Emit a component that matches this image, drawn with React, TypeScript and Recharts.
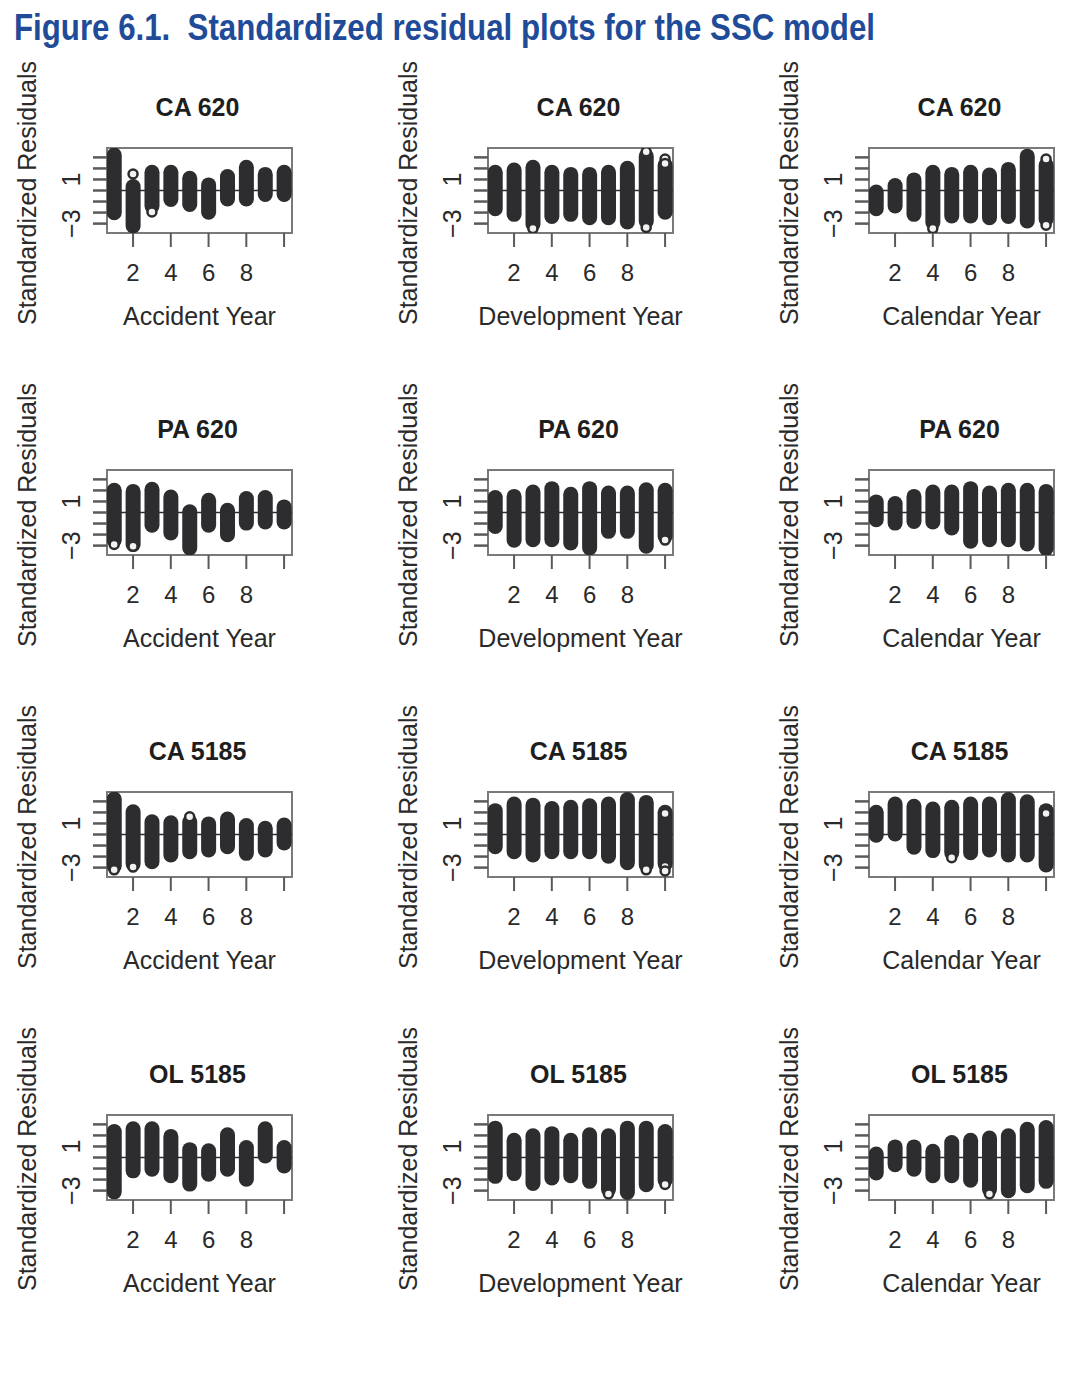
import React from "react";
import {
  ComposedChart,
  Bar,
  Scatter,
  XAxis,
  YAxis,
  ReferenceLine,
  ReferenceArea,
} from "recharts";

const years = [1, 2, 3, 4, 5, 6, 7, 8, 9, 10];
const xTicks = [2, 4, 6, 8, 10];
const xLabelled = [2, 4, 6, 8];
const yTicks = [-3, -2, -1, 0, 1, 2, 3];
const yLabelled = [1, -3];

const lineTitles = ["CA 620", "PA 620", "CA 5185", "OL 5185"];
const periodTitles = ["Accident Year", "Development Year", "Calendar Year"];

// lowest / highest standardized residual in each year
const ca620AyLo = [-2.1, -3.3, -1.5, -0.9, -1.35, -2.05, -0.85, -0.85, -0.45, -0.45];
const ca620AyHi = [3.3, 0.45, 1.75, 1.75, 1.2, 0.6, 1.35, 2.2, 1.55, 1.75];
const ca620DyLo = [-1.75, -2.25, -3.15, -2.45, -2.25, -2.55, -2.55, -2.95, -2.9, -2.05];
const ca620DyHi = [1.75, 1.95, 2.2, 1.75, 1.55, 1.55, 1.75, 2.1, 3.2, 2.4];
const ca620CyLo = [-1.75, -1.5, -2.25, -3.0, -2.4, -2.4, -2.55, -2.45, -2.85, -2.7];
const ca620CyHi = [-0.05, 0.55, 1.05, 1.75, 1.55, 1.75, 1.5, 2.0, 3.2, 2.4];

const pa620AyLo = [-2.6, -3.0, -1.25, -1.95, -3.3, -1.25, -2.1, -1.05, -0.95, -0.95];
const pa620AyHi = [2.1, 2.0, 2.2, 1.5, 0.15, 1.2, 0.3, 1.35, 1.45, 0.6];
const pa620DyLo = [-1.35, -2.6, -2.55, -2.55, -2.85, -3.3, -1.8, -1.8, -3.15, -2.25];
const pa620DyHi = [1.45, 1.55, 1.95, 2.25, 1.75, 2.25, 1.85, 1.85, 2.15, 2.1];
const pa620CyLo = [-0.75, -1.05, -0.9, -0.95, -1.5, -2.7, -2.55, -2.55, -2.95, -3.35];
const pa620CyHi = [1.05, 0.9, 1.55, 1.95, 1.95, 2.25, 1.85, 2.1, 2.1, 2.0];

const ca5185AyLo = [-2.95, -2.75, -2.55, -1.95, -1.65, -1.5, -1.2, -1.8, -1.5, -0.85];
const ca5185AyHi = [3.3, 2.15, 1.25, 1.15, 1.25, 1.05, 1.5, 0.9, 0.65, 0.95];
const ca5185DyLo = [-1.2, -1.65, -1.95, -1.65, -1.65, -1.65, -2.05, -2.65, -2.85, -2.75];
const ca5185DyHi = [2.25, 2.85, 2.75, 2.45, 2.55, 2.7, 2.85, 3.25, 3.0, 2.1];
const ca5185CyLo = [-0.15, -0.05, -1.25, -1.55, -1.75, -1.75, -1.5, -1.95, -1.95, -2.85];
const ca5185CyHi = [2.1, 2.85, 2.65, 2.4, 2.55, 2.85, 2.85, 3.25, 3.05, 2.25];

const ol5185AyLo = [-3.2, -1.3, -1.15, -1.75, -2.5, -1.6, -1.15, -2.05, 0.05, -0.85];
const ol5185AyHi = [2.45, 2.7, 2.7, 2.0, 0.8, 0.7, 2.15, 1.0, 2.7, 1.0];
const ol5185DyLo = [-1.8, -1.55, -2.45, -1.95, -1.75, -2.25, -3.0, -3.25, -2.55, -2.15];
const ol5185DyHi = [2.75, 1.65, 2.05, 2.25, 1.65, 2.15, 2.05, 2.75, 2.75, 2.45];
const ol5185CyLo = [-1.5, -0.75, -1.15, -1.75, -1.75, -2.15, -3.0, -3.1, -2.65, -2.25];
const ol5185CyHi = [0.4, 1.05, 1.05, 0.65, 1.45, 1.65, 1.85, 2.05, 2.65, 2.8];

// residuals that stand out as separate open circles: [year, residual]
const ca620AyOpen = [[2, 1.5], [3, -1.95]];
const ca620DyOpen = [[3, -3.45], [9, 3.5], [9, -3.35], [10, 2.85], [10, 2.45]];
const ca620CyOpen = [[4, -3.45], [10, -3.15], [10, 2.85]];
const pa620AyOpen = [[1, -2.9], [2, -3.05]];
const pa620DyOpen = [[10, -2.5]];
const pa620CyOpen: number[][] = [];
const ca5185AyOpen = [[1, -3.2], [2, -2.95], [5, 1.6]];
const ca5185DyOpen = [[9, -3.2], [10, 1.9], [10, -2.9], [10, -3.3]];
const ca5185CyOpen = [[10, 1.9], [5, -2.1]];
const ol5185AyOpen: number[][] = [];
const ol5185DyOpen = [[7, -3.3], [10, -2.45]];
const ol5185CyOpen = [[7, -3.3]];

const grid = [
  [[ca620AyLo, ca620AyHi, ca620AyOpen], [ca620DyLo, ca620DyHi, ca620DyOpen], [ca620CyLo, ca620CyHi, ca620CyOpen]],
  [[pa620AyLo, pa620AyHi, pa620AyOpen], [pa620DyLo, pa620DyHi, pa620DyOpen], [pa620CyLo, pa620CyHi, pa620CyOpen]],
  [[ca5185AyLo, ca5185AyHi, ca5185AyOpen], [ca5185DyLo, ca5185DyHi, ca5185DyOpen], [ca5185CyLo, ca5185CyHi, ca5185CyOpen]],
  [[ol5185AyLo, ol5185AyHi, ol5185AyOpen], [ol5185DyLo, ol5185DyHi, ol5185DyOpen], [ol5185CyLo, ol5185CyHi, ol5185CyOpen]],
] as number[][][][];

const INK = "#2d2d30";
const FONT = "'Liberation Sans', Arial, Helvetica, sans-serif";
const X_DOMAIN: [number, number] = [0.62, 10.42];
const Y_DOMAIN: [number, number] = [-3.85, 3.85];

// panel geometry
const PANEL_W = 381;
const PANEL_H = 300;
const ROW_STEP = 322.2;
const BOX_L = 107;
const BOX_T = 88;
const BOX_W = 185;
const BOX_H = 85;

function Pill(props: any) {
  const { x, y, width, height } = props;
  if (x == null || y == null) return null;
  const top = Math.min(y, y + height);
  const h = Math.abs(height);
  const r = width / 2;
  return <rect x={x} y={top - r + 1} width={width} height={h + 2 * r - 2} rx={r} ry={r} fill={INK} />;
}

function OpenDot(props: any) {
  const { cx, cy } = props;
  if (cx == null || cy == null) return null;
  return <circle cx={cx} cy={cy} r={4.5} fill="#f2f2f2" stroke={INK} strokeWidth={2.5} />;
}

function XTick(props: any) {
  const { x, y, payload } = props;
  if (!xLabelled.includes(payload.value)) return null;
  return (
    <text x={x} y={y + 25} textAnchor="middle" dominantBaseline="central" fontSize={24} fontFamily={FONT} fill="#2a2a2a">
      {payload.value}
    </text>
  );
}

function YTick(props: any) {
  const { x, y, payload } = props;
  if (!yLabelled.includes(payload.value)) return null;
  const cx = x - 22;
  const label = payload.value < 0 ? `\u2212${Math.abs(payload.value)}` : `${payload.value}`;
  return (
    <text
      x={cx}
      y={y}
      transform={`rotate(-90 ${cx} ${y})`}
      textAnchor="middle"
      dominantBaseline="central"
      fontSize={25}
      fontFamily={FONT}
      fill="#2a2a2a"
    >
      {label}
    </text>
  );
}

function Panel({ row, col }: { row: number; col: number }) {
  const [lo, hi, open] = grid[row][col];
  const data = years.map((year, i) => ({ year, range: [lo[i], hi[i]] }));
  const openData = open.map(([year, v]) => ({ year, v }));
  const left = col * 381;
  const top = 60 + row * ROW_STEP;
  const boxCx = BOX_L + BOX_W / 2;

  const textBase: React.CSSProperties = {
    position: "absolute",
    transform: "translate(-50%, -50%)",
    whiteSpace: "nowrap",
    fontFamily: FONT,
    color: "#2a2a2a",
    lineHeight: 1,
  };

  return (
    <div style={{ position: "absolute", left, top, width: PANEL_W, height: PANEL_H + 40 }}>
      <ComposedChart
        width={PANEL_W}
        height={PANEL_H}
        data={data}
        margin={{ top: BOX_T, left: BOX_L - 60, right: PANEL_W - BOX_L - BOX_W, bottom: PANEL_H - BOX_T - BOX_H - 60 }}
      >
        <XAxis
          type="number"
          dataKey="year"
          domain={X_DOMAIN}
          ticks={xTicks}
          interval={0}
          allowDataOverflow
          axisLine={false}
          tickLine={{ stroke: "#5a5a5a", strokeWidth: 2 }}
          tickSize={14}
          tickMargin={0}
          height={60}
          tick={<XTick />}
        />
        <YAxis
          type="number"
          domain={Y_DOMAIN}
          ticks={yTicks}
          interval={0}
          allowDataOverflow
          axisLine={false}
          tickLine={{ stroke: "#5a5a5a", strokeWidth: 2.5 }}
          tickSize={14}
          tickMargin={0}
          width={60}
          tick={<YTick />}
        />
        <ReferenceLine y={0} stroke={INK} strokeWidth={1.5} />
        <Bar dataKey="range" barSize={15} shape={<Pill />} isAnimationActive={false} />
        <Scatter data={openData} dataKey="v" shape={<OpenDot />} isAnimationActive={false} />
        <ReferenceArea
          x1={X_DOMAIN[0]}
          x2={X_DOMAIN[1]}
          y1={Y_DOMAIN[0]}
          y2={Y_DOMAIN[1]}
          fill="none"
          fillOpacity={0}
          stroke="#7a7a7a"
          strokeWidth={2}
        />
      </ComposedChart>
      <div style={{ ...textBase, left: boxCx - 2, top: BOX_T - 41, fontSize: 25, fontWeight: 700, color: "#1e1e1e" }}>
        {lineTitles[row]}
      </div>
      <div style={{ ...textBase, left: boxCx, top: BOX_T + BOX_H + 83, fontSize: 25 }}>{periodTitles[col]}</div>
      <div
        style={{
          ...textBase,
          left: BOX_L - 80,
          top: BOX_T + BOX_H / 2 + 2,
          fontSize: 25,
          transform: "translate(-50%, -50%) rotate(-90deg)",
        }}
      >
        Standardized Residuals
      </div>
    </div>
  );
}

export default function App() {
  return (
    <div style={{ position: "absolute", left: 0, top: 0, width: 1081, height: 1383, background: "#fff", overflow: "hidden" }}>
      <svg width={1081} height={56} style={{ position: "absolute", left: 0, top: 0 }}>
        <text
          x={14}
          y={40}
          fontSize={36}
          fontWeight={700}
          fontFamily="'Liberation Sans Narrow', 'Liberation Sans', Arial, sans-serif"
          fill="#1f4b99"
          textLength={861}
          lengthAdjust="spacingAndGlyphs"
        >
          Figure 6.1.{"\u00a0\u00a0"}Standardized residual plots for the SSC model
        </text>
      </svg>
      {lineTitles.map((_, row) =>
        periodTitles.map((__, col) => <Panel key={`${row}-${col}`} row={row} col={col} />)
      )}
    </div>
  );
}
